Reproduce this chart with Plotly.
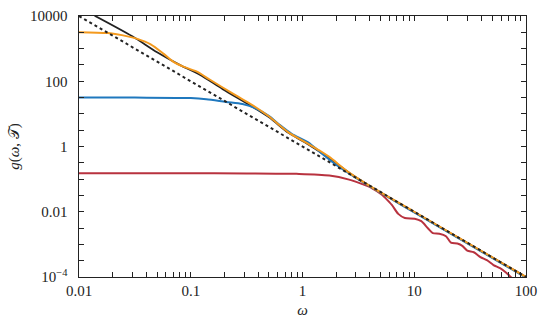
import plotly.graph_objects as go

# values (omega, g)
omega_dotted = [0.01, 100]
g_dotted = [1e4, 1e-4]

omega_solid = [0.0138, 0.030, 0.050, 0.0804, 0.1205, 0.1932, 0.3556, 0.499,
               0.748, 1.047, 1.738, 2.612, 3.98, 100]
g_solid = [10200, 2380, 773, 312, 158, 57.4, 16.6, 7.94,
           2.63, 1.35, 0.437, 0.158, 0.063, 1e-4]

omega_orange = [0.01, 0.0181, 0.0272, 0.0333, 0.0438, 0.0573, 0.0701, 0.0859,
                0.1125, 0.1476, 0.1932, 0.2535, 0.3556, 0.499, 0.748, 1.047,
                1.469, 1.738, 2.612, 3.917, 10, 100]
g_orange = [3200, 2990, 2377, 1995, 1355, 689, 393, 280,
            200, 113, 64.4, 36.7, 18.6, 8.43, 2.72, 1.38,
            0.703, 0.479, 0.158, 0.0646, 0.0100, 1e-4]

omega_blue = [0.01, 0.0316, 0.1, 0.1377, 0.2065, 0.2904, 0.380, 0.499,
              0.611, 0.80, 1.122, 1.469, 1.995, 3.162, 10, 100]
g_blue = [31.6, 31.5, 30.5, 28.2, 23.3, 20.0, 14.8, 8.71,
          4.90, 2.45, 1.35, 0.631, 0.275, 0.0977, 0.00955, 9.55e-5]

omega_red = [0.01, 0.1, 0.316, 0.885, 1.738, 2.612, 3.428, 4.198, 5.14, 5.50,
             6.30, 7.19, 8.24, 10.09, 11.56, 13.24, 14.66, 16.79, 19.23, 21.28,
             24.32, 26.92, 29.79, 34.12, 39.08, 44.67, 51.17, 58.61, 66.99,
             71.78, 79.4]
g_red = [0.152, 0.151, 0.150, 0.145, 0.129, 0.0966, 0.0703, 0.0525, 0.0334,
         0.0267, 0.0162, 0.00861, 0.00644, 0.00614, 0.00515, 0.00312, 0.00222,
         0.00213, 0.00178, 0.00113, 0.00106, 0.000904, 0.000644, 0.000574,
         0.000409, 0.000327, 0.000233, 0.000187, 0.000133, 0.000106, 7.94e-5]

x_labels = {0.01: "0.01", 0.1: "0.1", 1: "1", 10: "10", 100: "100"}
x_ticks = [m * 10.0 ** e for e in range(-2, 2) for m in range(1, 10)] + [100]
y_ticks = [10 ** (k / 2) for k in range(-8, 9)]
y_labels = {1e4: "10000", 1e2: "100", 1: "1", 1e-2: "0.01", 1e-4: "10<sup>−4</sup>"}

FONT = "Liberation Serif"
INK = "#222222"


def labels_for(ticks, named, pad=""):
    out = []
    for v in ticks:
        lab = ""
        for key, txt in named.items():
            if abs(v - key) / key < 1e-6:
                lab = txt + pad
        out.append(lab)
    return out


fig = go.Figure()
fig.add_trace(go.Scatter(x=omega_solid, y=g_solid, mode="lines",
                         line=dict(color=INK, width=1.8, shape="spline", smoothing=0.8)))
fig.add_trace(go.Scatter(x=omega_red, y=g_red, mode="lines",
                         line=dict(color="#b8323f", width=2, shape="spline", smoothing=0.8)))
fig.add_trace(go.Scatter(x=omega_blue, y=g_blue, mode="lines",
                         line=dict(color="#1f78be", width=2, shape="spline", smoothing=0.8)))
fig.add_trace(go.Scatter(x=omega_orange, y=g_orange, mode="lines",
                         line=dict(color="#f49a1e", width=2, shape="spline", smoothing=0.8)))
fig.add_trace(go.Scatter(x=omega_dotted, y=g_dotted, mode="lines",
                         line=dict(color=INK, width=2, dash="3px,3px")))

fig.update_xaxes(type="log", range=[-2, 2], tickvals=x_ticks,
                 ticktext=labels_for(x_ticks, x_labels),
                 showline=True, linecolor=INK, linewidth=1.2, mirror="ticks",
                 ticks="inside", ticklen=5, tickcolor=INK, tickwidth=1,
                 showgrid=False, zeroline=False,
                 tickfont=dict(family=FONT, size=15, color=INK),
                 title=dict(text="<i>ω</i>", font=dict(family=FONT, size=15, color=INK),
                            standoff=6))
fig.update_yaxes(type="log", range=[-4, 4], tickvals=y_ticks,
                 ticktext=labels_for(y_ticks, y_labels, pad="\u00a0\u00a0"),
                 showline=True, linecolor=INK, linewidth=1.2, mirror="ticks",
                 ticks="inside", ticklen=5, tickcolor=INK, tickwidth=1,
                 showgrid=False, zeroline=False,
                 tickfont=dict(family=FONT, size=15, color=INK),
                 title=dict(text="<i>g</i>(<i>ω</i>, 𝒯)",
                            font=dict(family=FONT, size=15, color=INK), standoff=6))

fig.update_layout(width=545, height=325, margin=dict(l=79, r=12, t=8, b=48),
                  plot_bgcolor="white", paper_bgcolor="white", showlegend=False)

fig.write_html("out.html", config={"displayModeBar": False},
               post_script="document.body.style.margin='0';")
